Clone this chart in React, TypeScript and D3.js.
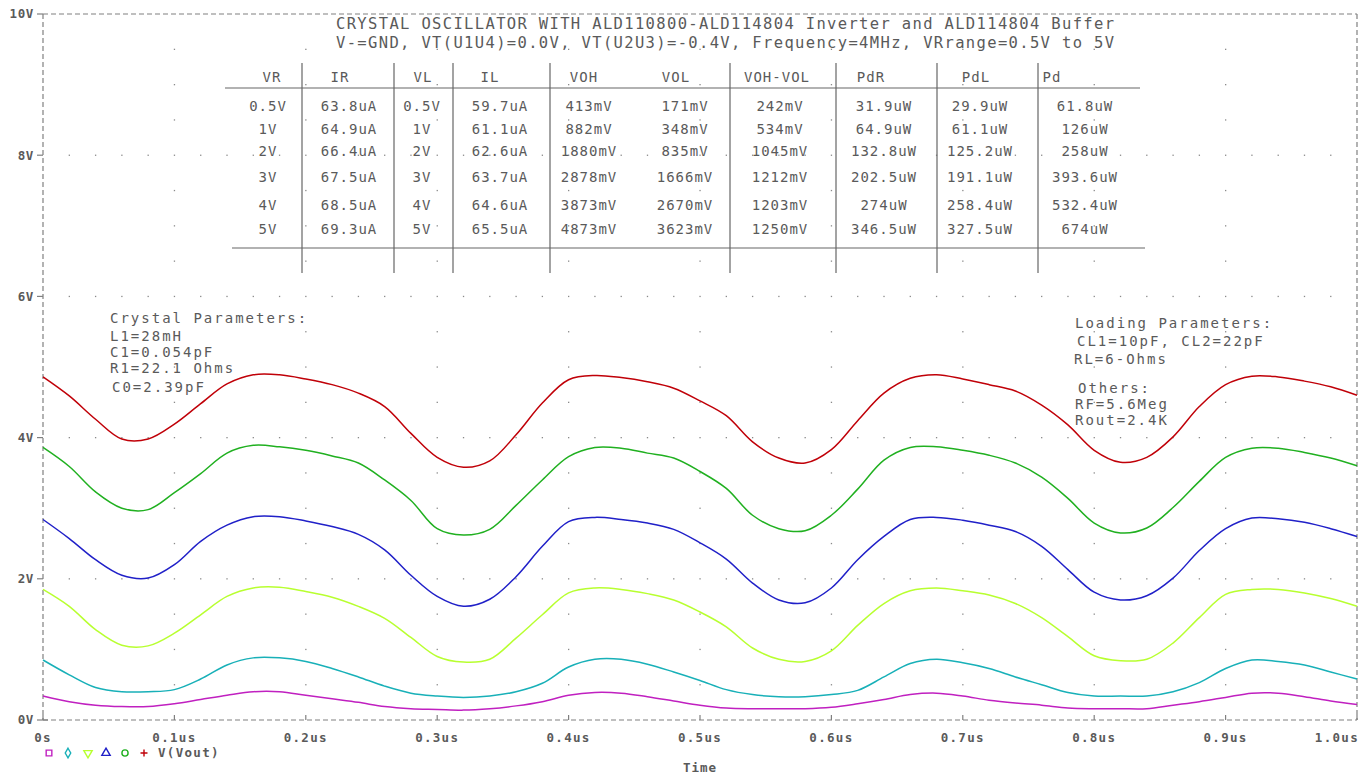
import * as React from "react"
import * as d3 from "d3"

// sample instants (us)
const times = [0, 0.02, 0.04, 0.06, 0.08, 0.1, 0.12, 0.14, 0.16, 0.18, 0.2, 0.22, 0.24, 0.26, 0.28, 0.3, 0.32, 0.34, 0.36, 0.38, 0.4, 0.42, 0.44, 0.46, 0.48, 0.5, 0.52, 0.54, 0.56, 0.58, 0.6, 0.62, 0.64, 0.66, 0.68, 0.7, 0.72, 0.74, 0.76, 0.78, 0.8, 0.82, 0.84, 0.86, 0.88, 0.9, 0.92, 0.94, 0.96, 0.98, 1.0]

// V(Vout) for VR = 5V .. 0.5V
const vr5 = [4.86, 4.59, 4.26, 3.98, 3.98, 4.19, 4.48, 4.76, 4.89, 4.89, 4.83, 4.75, 4.63, 4.44, 4.06, 3.72, 3.58, 3.67, 4.04, 4.49, 4.82, 4.88, 4.85, 4.79, 4.70, 4.52, 4.31, 3.94, 3.71, 3.64, 3.83, 4.24, 4.63, 4.84, 4.89, 4.83, 4.75, 4.66, 4.46, 4.18, 3.82, 3.65, 3.72, 4.01, 4.44, 4.75, 4.87, 4.86, 4.80, 4.72, 4.60]
const vr4 = [3.86, 3.59, 3.23, 3.00, 2.98, 3.22, 3.49, 3.78, 3.89, 3.87, 3.82, 3.74, 3.64, 3.40, 3.11, 2.71, 2.62, 2.70, 3.04, 3.40, 3.73, 3.86, 3.85, 3.78, 3.71, 3.52, 3.28, 2.90, 2.71, 2.68, 2.90, 3.27, 3.68, 3.86, 3.87, 3.82, 3.75, 3.64, 3.44, 3.14, 2.79, 2.65, 2.72, 3.01, 3.38, 3.72, 3.85, 3.85, 3.79, 3.71, 3.60]
const vr3 = [2.84, 2.57, 2.27, 2.05, 2.01, 2.20, 2.53, 2.76, 2.88, 2.88, 2.82, 2.74, 2.63, 2.41, 2.05, 1.75, 1.61, 1.71, 2.03, 2.46, 2.81, 2.87, 2.84, 2.79, 2.70, 2.51, 2.28, 1.94, 1.70, 1.66, 1.87, 2.27, 2.60, 2.84, 2.87, 2.83, 2.76, 2.67, 2.46, 2.13, 1.81, 1.70, 1.76, 2.01, 2.40, 2.71, 2.86, 2.85, 2.80, 2.71, 2.60]
const vr2 = [1.85, 1.61, 1.28, 1.06, 1.05, 1.23, 1.49, 1.75, 1.87, 1.88, 1.82, 1.74, 1.61, 1.44, 1.17, 0.90, 0.82, 0.86, 1.16, 1.49, 1.80, 1.87, 1.85, 1.79, 1.70, 1.53, 1.32, 1.02, 0.86, 0.83, 0.98, 1.34, 1.65, 1.83, 1.87, 1.83, 1.77, 1.65, 1.45, 1.18, 0.91, 0.84, 0.86, 1.09, 1.45, 1.78, 1.85, 1.85, 1.80, 1.72, 1.61]
const vr1 = [0.85, 0.64, 0.46, 0.40, 0.40, 0.43, 0.58, 0.78, 0.88, 0.88, 0.83, 0.73, 0.61, 0.48, 0.38, 0.34, 0.32, 0.34, 0.40, 0.52, 0.75, 0.86, 0.86, 0.79, 0.68, 0.56, 0.43, 0.36, 0.33, 0.33, 0.36, 0.42, 0.61, 0.80, 0.86, 0.81, 0.73, 0.61, 0.50, 0.39, 0.34, 0.34, 0.34, 0.40, 0.53, 0.73, 0.85, 0.83, 0.78, 0.68, 0.58]
const vr05 = [0.34, 0.26, 0.21, 0.19, 0.19, 0.23, 0.29, 0.35, 0.40, 0.40, 0.35, 0.30, 0.25, 0.19, 0.16, 0.15, 0.14, 0.16, 0.20, 0.26, 0.35, 0.39, 0.38, 0.33, 0.27, 0.21, 0.17, 0.16, 0.16, 0.16, 0.18, 0.23, 0.29, 0.36, 0.38, 0.34, 0.28, 0.24, 0.21, 0.17, 0.16, 0.16, 0.16, 0.21, 0.26, 0.32, 0.38, 0.38, 0.33, 0.27, 0.22]

const xTicks = [0, 0.1, 0.2, 0.3, 0.4, 0.5, 0.6, 0.7, 0.8, 0.9, 1.0]
const xTickLabels = ["0s", "0.1us", "0.2us", "0.3us", "0.4us", "0.5us", "0.6us", "0.7us", "0.8us", "0.9us", "1.0us"]
const yTicks = [0, 2, 4, 6, 8, 10]
const yTickLabels = ["0V", "2V", "4V", "6V", "8V", "10V"]

// table
const headers = ["VR", "IR", "VL", "IL", "VOH", "VOL", "VOH-VOL", "PdR", "PdL", "Pd"]
const colVR = ["0.5V", "1V", "2V", "3V", "4V", "5V"]
const colIR = ["63.8uA", "64.9uA", "66.4uA", "67.5uA", "68.5uA", "69.3uA"]
const colVL = ["0.5V", "1V", "2V", "3V", "4V", "5V"]
const colIL = ["59.7uA", "61.1uA", "62.6uA", "63.7uA", "64.6uA", "65.5uA"]
const colVOH = ["413mV", "882mV", "1880mV", "2878mV", "3873mV", "4873mV"]
const colVOL = ["171mV", "348mV", "835mV", "1666mV", "2670mV", "3623mV"]
const colDiff = ["242mV", "534mV", "1045mV", "1212mV", "1203mV", "1250mV"]
const colPdR = ["31.9uW", "64.9uW", "132.8uW", "202.5uW", "274uW", "346.5uW"]
const colPdL = ["29.9uW", "61.1uW", "125.2uW", "191.1uW", "258.4uW", "327.5uW"]
const colPd = ["61.8uW", "126uW", "258uW", "393.6uW", "532.4uW", "674uW"]

const titleLines = [
  "CRYSTAL OSCILLATOR WITH ALD110800-ALD114804 Inverter and ALD114804 Buffer",
  "V-=GND, VT(U1U4)=0.0V, VT(U2U3)=-0.4V, Frequency=4MHz, VRrange=0.5V to 5V",
]
const crystalText = ["Crystal Parameters:", "L1=28mH", "C1=0.054pF", "R1=22.1 Ohms", "C0=2.39pF"]
const loadingText = ["Loading Parameters:", "CL1=10pF, CL2=22pF", "RL=6-Ohms"]
const othersText = ["Others:", "RF=5.6Meg", "Rout=2.4K"]

const W = 1370
const H = 777
const AX = "#808080"
const TXT = "#5a5a5a"
const MONO = "'DejaVu Sans Mono', 'Liberation Mono', monospace"

export default function App() {
  const x = d3.scaleLinear().domain([0, 1.0]).range([43, 1357])
  const y = d3.scaleLinear().domain([0, 10]).range([720, 14])

  const series = [
    { vals: vr05, color: "#c020c0", sym: "square" },
    { vals: vr1, color: "#18b0b8", sym: "diamond" },
    { vals: vr2, color: "#b8ff30", sym: "tridown" },
    { vals: vr3, color: "#2020c8", sym: "triangle" },
    { vals: vr4, color: "#20b020", sym: "circle" },
    { vals: vr5, color: "#c00008", sym: "plus" },
  ]

  const line = d3.line<number>()
    .x((_, i) => x(times[i]))
    .y(d => y(d))
    .curve(d3.curveCatmullRom.alpha(0.5))

  // dotted grid
  const rowDots: [number, number][] = []
  const hStep = d3.range(1, 50).map(i => i * 0.02)
  for (const v of [2, 4, 6, 8]) for (const t of hStep) rowDots.push([x(t), y(v)])
  const colDots: [number, number][] = []
  const vStep = d3.range(1, 20).map(i => i * 0.5)
  for (const t of xTicks.slice(1, -1)) for (const v of vStep) if (v % 2 !== 0) colDots.push([x(t), y(v)])

  const cols = [colVR, colIR, colVL, colIL, colVOH, colVOL, colDiff, colPdR, colPdL, colPd]
  const colX = [268, 349, 422, 500, 589, 685, 780, 884, 980, 1085]
  const headX = [272, 340, 423, 490, 584, 676, 777, 871, 976, 1052]
  const rowY = [106, 129, 151, 177, 205, 229]
  const vLines = [302, 394, 453, 550, 730, 836, 937, 1038]

  const symPath = (s: string) => {
    if (s === "square") return d3.symbol(d3.symbolSquare, 32)()
    if (s === "diamond") return d3.symbol(d3.symbolDiamond, 26)()
    if (s === "circle") return d3.symbol(d3.symbolCircle, 30)()
    if (s === "plus") return "M-3.5,0H3.5M0,-3.5V3.5"
    return d3.symbol(d3.symbolTriangle, 30)()
  }
  const legendX = [49, 68, 88, 106, 125, 144]

  return (
    <svg width={W} height={H} style={{ position: "absolute", left: 0, top: 0, background: "#fff" }}>
      <rect width={W} height={H} fill="#fff" />

      {/* grid dots */}
      {rowDots.map((p, i) => <rect key={"r" + i} x={p[0] - 0.6} y={p[1] - 0.6} width={1.3} height={1.3} fill="#8a8a8a" />)}
      {colDots.map((p, i) => <rect key={"c" + i} x={p[0] - 0.6} y={p[1] - 0.6} width={1.3} height={1.3} fill="#8a8a8a" />)}

      {/* frame */}
      <g stroke={AX} strokeWidth={1.2} strokeDasharray="5,3" fill="none">
        <line x1={x(0)} x2={x(1)} y1={y(10)} y2={y(10)} />
        <line x1={x(0)} x2={x(1)} y1={y(0)} y2={y(0)} />
        <line x1={x(0)} x2={x(0)} y1={y(10)} y2={y(0)} />
        <line x1={x(1)} x2={x(1)} y1={y(10)} y2={y(0)} />
      </g>
      <g stroke={AX} strokeWidth={1.2}>
        {yTicks.map(v => <line key={v} x1={x(0) - 6} x2={x(0)} y1={y(v)} y2={y(v)} />)}
        {xTicks.map(t => <line key={t} x1={x(t)} x2={x(t)} y1={y(0)} y2={y(0) - 5} />)}
        <line x1={x(0)} x2={x(0) + 5} y1={y(0)} y2={y(0)} />
      </g>
      <g fontFamily={MONO} fontWeight="bold" fontSize={12.5} fill={TXT}>
        {yTicks.map((v, i) => (
          <text key={v} x={x(0) - 9} y={y(v)} dy="0.35em" textAnchor="end" letterSpacing={0.6}>{yTickLabels[i]}</text>
        ))}
        {xTicks.map((t, i) => (
          <text key={t} x={i === xTicks.length - 1 ? x(t) + 2 : x(t)} y={738} dy="0.35em"
            textAnchor={i === xTicks.length - 1 ? "end" : "middle"} letterSpacing={1.3}>{xTickLabels[i]}</text>
        ))}
        <text x={x(0.5)} y={768} dy="0.35em" textAnchor="middle" letterSpacing={1}>Time</text>
        <text x={158} y={753} dy="0.35em" letterSpacing={1.3}>V(Vout)</text>
      </g>

      {/* legend symbols */}
      {series.map((s, i) => (
        <path key={s.sym} d={symPath(s.sym) || ""}
          transform={`translate(${legendX[i]},753)${s.sym === "tridown" ? " rotate(180)" : ""}`}
          fill="none" stroke={s.color} strokeWidth={1.4} />
      ))}

      {/* title */}
      <g fontFamily={MONO} fontSize={15.5} fill={TXT}>
        {titleLines.map((t, i) => (
          <text key={i} x={336} y={24 + i * 19} dy="0.35em" textLength={778} lengthAdjust="spacing">{t}</text>
        ))}
      </g>

      {/* table */}
      <g stroke="#666" strokeWidth={1.2}>
        <line x1={225} x2={1140} y1={88} y2={88} />
        <line x1={232} x2={1145} y1={248} y2={248} />
        {vLines.map(v => <line key={v} x1={v} x2={v} y1={63} y2={273} />)}
      </g>
      <g fontFamily={MONO} fontSize={14} fill={TXT} textAnchor="middle" letterSpacing={1}>
        {headers.map((h, i) => <text key={h} x={headX[i]} y={77} dy="0.35em">{h}</text>)}
        {cols.map((c, ci) => c.map((v, ri) => (
          <text key={ci + "-" + ri} x={colX[ci]} y={rowY[ri]} dy="0.35em">{v}</text>
        )))}
      </g>

      {/* annotations */}
      <g fontFamily={MONO} fontSize={14} fill={TXT} letterSpacing={2}>
        {crystalText.map((t, i) => <text key={t} x={i === 4 ? 112 : 110} y={[318, 336, 352, 368, 387][i]} dy="0.35em">{t}</text>)}
        {loadingText.map((t, i) => <text key={t} x={[1075, 1077, 1074][i]} y={[323, 341, 359][i]} dy="0.35em">{t}</text>)}
        {othersText.map((t, i) => <text key={t} x={[1078, 1075, 1075][i]} y={[388, 404, 420][i]} dy="0.35em">{t}</text>)}
      </g>

      {/* waveforms */}
      {series.map(s => (
        <path key={s.color} d={line(s.vals) || ""} fill="none" stroke={s.color} strokeWidth={1.5} />
      ))}
    </svg>
  )
}
